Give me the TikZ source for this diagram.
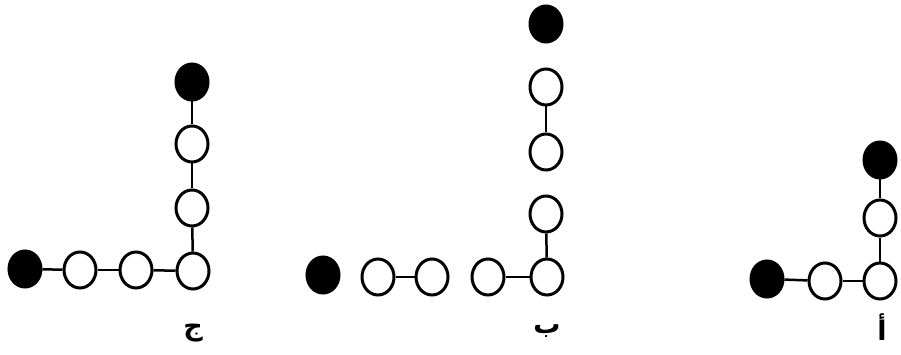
\documentclass[tikz,border=0pt]{standalone}
\usepackage{fontspec}
\newfontfamily\arabicfont[Script=Arabic]{DejaVu Sans}
\TeXXeTstate=1
\usetikzlibrary{shapes.geometric}
\tikzset{
  bead/.style={ellipse,draw=black,line width=3pt,fill=white,inner sep=0pt,minimum width=32pt,minimum height=36pt},
  blackbead/.style={bead,fill=black},
  link/.style={line width=2.5pt},
  lab/.style={font=\arabicfont\bfseries\fontsize{27}{30}\selectfont,inner sep=0pt}
}
\begin{document}
\begin{tikzpicture}[x=1pt,y=-1pt]
\useasboundingbox (0,0) rectangle (901,355);
% ج
\node[blackbead] (c1) at (25,269) {};
\node[bead] (c2) at (80,270) {};
\node[bead] (c3) at (136,270) {};
\node[bead] (c4) at (193,271) {};
\node[bead] (c5) at (192,208) {};
\node[bead] (c6) at (192,144) {};
\node[blackbead] (c7) at (192,82) {};
\draw[link] (c1) -- (c2);
\draw[link] (c2) -- (c3);
\draw[link] (c3) -- (c4);
\draw[link] (c4) -- (c5);
\draw[link] (c5) -- (c6);
\draw[link] (c6) -- (c7);
\node[lab] (lc) at (193,333) {\beginR ج\endR};
% ب
\node[blackbead] (b1) at (323,275) {};
\node[bead] (b2) at (378,277) {};
\node[bead] (b3) at (432,277) {};
\node[bead] (b4) at (488,277) {};
\node[bead] (b5) at (547,277) {};
\node[bead] (b6) at (546,214) {};
\node[bead] (b7) at (546,152) {};
\node[bead] (b8) at (546,87) {};
\node[blackbead] (b9) at (546,24) {};
\draw[link] (b2) -- (b3);
\draw[link] (b4) -- (b5);
\draw[link] (b5) -- (b6);
\draw[link] (b7) -- (b8);
\node[lab] (lb) at (547,331) {\beginR ب\endR};
% أ
\node[blackbead] (a1) at (767,279) {};
\node[bead] (a2) at (825,281) {};
\node[bead] (a3) at (880,281) {};
\node[bead] (a4) at (880,218) {};
\node[blackbead] (a5) at (880,160) {};
\draw[link] (a1) -- (a2);
\draw[link] (a2) -- (a3);
\draw[link] (a3) -- (a4);
\draw[link] (a4) -- (a5);
\node[lab] (la) at (882,327) {\beginR أ\endR};
\end{tikzpicture}
\end{document}
